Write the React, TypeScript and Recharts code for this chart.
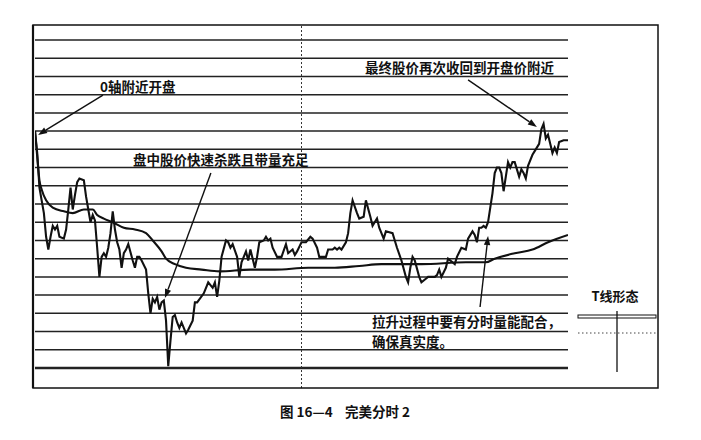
import React from 'react';
import { LineChart, Line, XAxis, YAxis, ReferenceLine } from 'recharts';

// minutes since open (0..240) and price level (in grid units, 13 = 0 axis)
const priceTimes = [0,1,2,3,4,5,6,7,8,9,10,11,13,14,15,16,17,18,19,20,22,23,24,25,26,27,28,29,30,31,32,33,34,35,36,37,38,39,40,41,42,44,45,46,47,48,50,51,52,53,54,55,56,57,58,59,60,61,62,63,64,65,66,68,69,71,72,73,76,77,78,80,81,82,83,84,86,87,88,89,91,92,93,95,96,97,99,100,101,103,104,105,106,107,109,111,113,114,116,117,118,120,122,124,125,127,128,131,132,134,135,136,137,138,140,141,142,143,145,146,148,149,151,152,154,155,157,158,161,162,163,165,167,168,169,170,171,173,174,176,177,180,181,182,183,185,186,188,189,190,192,194,195,197,198,199,200,201,202,203,204,205,206,207,208,209,210,211,212,213,214,215,216,218,219,220,221,222,224,225,227,228,229,230,231,232,233,234,235,236,238,240];
const priceValues = [13.0,11.8,9.9,9.2,8.5,7.2,6.5,7.2,7.8,7.6,7.8,7.2,7.1,7.6,8.7,9.9,8.7,9.5,10.2,10.4,10.3,9.4,8.7,8.0,8.4,8.1,6.6,5.0,6.1,6.3,6.1,6.6,7.4,8.6,7.6,6.9,6.5,5.5,6.3,6.5,6.8,5.9,5.5,6.1,6.1,5.9,5.4,4.1,3.0,3.8,3.6,3.9,3.2,3.6,3.7,2.6,0.1,1.5,2.8,2.9,2.5,2.2,2.5,1.9,2.1,2.6,3.6,3.6,4.1,4.4,4.7,4.4,4.7,3.9,4.8,6.1,7.0,6.9,6.6,6.8,6.1,5.0,5.8,6.4,5.9,6.5,5.5,6.1,6.9,7.0,7.2,7.0,7.1,6.6,6.1,6.1,6.8,6.3,6.5,6.2,6.4,6.9,6.9,7.2,7.1,6.6,6.1,6.1,6.5,6.5,6.6,6.5,6.6,6.5,6.9,7.4,8.5,9.2,8.5,8.2,8.3,9.2,8.3,7.8,8.2,7.7,7.1,7.5,7.4,7.0,6.6,5.9,5.0,4.7,5.5,6.1,5.9,5.0,4.7,4.9,5.0,5.0,5.1,5.4,5.0,5.5,6.0,5.8,5.7,6.1,6.6,6.5,7.1,7.5,7.3,6.9,7.7,7.7,7.8,7.7,8.0,8.8,9.6,10.7,11.0,11.0,10.7,9.7,10.5,11.3,11.0,11.3,11.3,10.5,10.9,10.7,10.4,11.1,11.7,11.9,12.3,13.1,13.4,12.6,12.8,12.3,11.8,12.1,11.8,12.4,12.5,12.5];

const avgTimes = [0,1,2,3,5,8,13,17,22,26,28,31,35,40,45,50,53,57,59,63,68,75,83,97,108,123,135,146,156,174,194,203,207,216,224,231,240];
const avgValues = [13.0,11.6,10.3,9.8,9.2,8.8,8.6,8.5,8.7,8.7,8.4,8.2,8.0,7.7,7.6,7.4,7.0,6.4,6.0,5.7,5.5,5.4,5.3,5.4,5.4,5.5,5.5,5.6,5.7,5.7,5.8,5.8,6.0,6.3,6.5,6.9,7.3];

const gridLevels = [0,1,2,3,4,5,6,7,8,9,10,11,12,13,14,15,16,17,18];
const middayMinute = 120;

// annotation arrows: [fromMinute, fromLevel] -> [toMinute, toLevel]
const arrowStarts = [[30.6, 14.98], [79.2, 10.7], [195.0, 15.81], [200.4, 3.35]];
const arrowEnds = [[1.4, 12.79], [58.5, 3.84], [226.0, 13.23], [204.0, 7.24]];

const labelTexts = ['0轴附近开盘', '盘中股价快速杀跌且带量充足', '最终股价再次收回到开盘价附近', '拉升过程中要有分时量能配合，', '确保真实度。'];
const sideTitle = 'T线形态';
const captionLeft = '图 16—4';
const captionRight = '完美分时 2';

const priceData = priceTimes.map((t, i) => ({ t, v: priceValues[i] }));
const avgData = avgTimes.map((t, i) => ({ t, v: avgValues[i] }));

const FONT = '"Noto Sans CJK SC", "Noto Sans", sans-serif';

const ArrowShape = (props: any) => {
  const { x1, y1, x2, y2 } = props;
  const ang = Math.atan2(y2 - y1, x2 - x1);
  const L = 9, W = 3.2;
  const bx = x2 - L * Math.cos(ang);
  const by = y2 - L * Math.sin(ang);
  const p1x = bx + W * Math.sin(ang), p1y = by - W * Math.cos(ang);
  const p2x = bx - W * Math.sin(ang), p2y = by + W * Math.cos(ang);
  return (
    <g>
      <line x1={x1} y1={y1} x2={bx} y2={by} stroke="#111" strokeWidth={1.4} />
      <polygon points={`${x2},${y2} ${p1x},${p1y} ${p2x},${p2y}`} fill="#111" />
    </g>
  );
};

export default function App() {
  return (
    <div style={{ position: 'absolute', left: 0, top: 0, width: 701, height: 440, background: '#fff' }}>
      <LineChart width={701} height={440} margin={{ left: 35, right: 133, top: 40, bottom: 72 }}>
        <XAxis type="number" dataKey="t" domain={[0, 240]} hide allowDataOverflow />
        <YAxis type="number" dataKey="v" domain={[0, 18]} hide width={0} allowDataOverflow />
        {gridLevels.map((g) => (
          <ReferenceLine key={g} y={g} stroke="#222" strokeWidth={g === 0 ? 2.6 : 1.5} ifOverflow="visible" />
        ))}
        <ReferenceLine
          segment={[{ x: middayMinute, y: -1.1 }, { x: middayMinute, y: 18.83 }]}
          stroke="#333"
          strokeWidth={1}
          strokeDasharray="2 2"
          ifOverflow="visible"
        />
        <Line data={avgData} dataKey="v" type="monotone" stroke="#111" strokeWidth={2.1} dot={false} isAnimationActive={false} />
        <Line data={priceData} dataKey="v" type="linear" stroke="#111" strokeWidth={2.1} dot={false} isAnimationActive={false} />
        {arrowStarts.map((s, i) => (
          <ReferenceLine
            key={'a' + i}
            segment={[{ x: s[0], y: s[1] }, { x: arrowEnds[i][0], y: arrowEnds[i][1] }]}
            ifOverflow="visible"
            shape={ArrowShape}
          />
        ))}
      </LineChart>
      <svg width={701} height={440} style={{ position: 'absolute', left: 0, top: 0, pointerEvents: 'none' }}>
        <rect x={33} y={25} width={625} height={363} fill="none" stroke="#111" strokeWidth={1.5} />
        <line x1={33} y1={25} x2={33} y2={388} stroke="#111" strokeWidth={2.2} />
        <g fontFamily={FONT} fill="#111" fontSize={13.5} fontWeight={700}>
          <text x={100} y={92}>{labelTexts[0]}</text>
          <text x={133} y={165}>{labelTexts[1]}</text>
          <text x={365} y={73}>{labelTexts[2]}</text>
          <text x={372} y={327}>{labelTexts[3]}</text>
          <text x={372} y={347}>{labelTexts[4]}</text>
          <text x={615} y={301} textAnchor="middle" fontSize={13}>{sideTitle}</text>
          <text x={280} y={417} fontSize={13.5}>{captionLeft}</text>
          <text x={345} y={417} fontSize={13.5}>{captionRight}</text>
        </g>
        <rect x={578} y={315} width={78} height={3} fill="#fff" stroke="#111" strokeWidth={1} />
        <line x1={617} y1={311} x2={617} y2={372} stroke="#111" strokeWidth={1.3} />
        <line x1={578} y1={333} x2={656} y2={333} stroke="#444" strokeWidth={1} strokeDasharray="1.5 2.5" />
      </svg>
    </div>
  );
}
